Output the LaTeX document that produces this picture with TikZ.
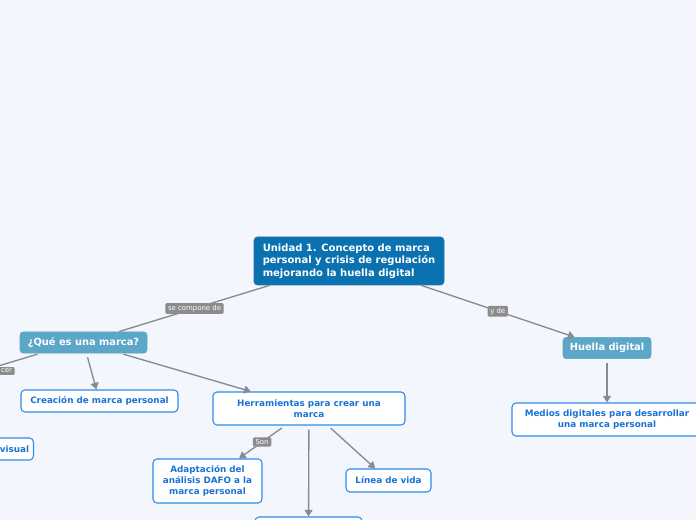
\documentclass[tikz,border=0pt]{standalone}
\usepackage{fontspec}
\setmainfont{DejaVu Sans}
\usetikzlibrary{arrows.meta}

\definecolor{bgcol}{RGB}{243,246,253}
\definecolor{rootcol}{RGB}{10,114,176}
\definecolor{topiccol}{RGB}{92,166,200}
\definecolor{subline}{RGB}{45,140,235}
\definecolor{subtext}{RGB}{25,115,215}
\definecolor{linkcol}{RGB}{135,138,145}
\definecolor{lblcol}{RGB}{140,140,140}

\tikzset{
  root/.style={rectangle, rounded corners=2.5pt, fill=rootcol, draw=rootcol!70!gray,
    text=white, font=\bfseries\fontsize{7.5}{9.4}\selectfont, align=left,
    minimum width=142.5pt, minimum height=36pt, inner xsep=5pt},
  topic/.style={rectangle, rounded corners=2.5pt, fill=topiccol, draw=topiccol,
    text=white, font=\bfseries\fontsize{7.4}{9}\selectfont, minimum height=16pt},
  sub/.style={rectangle, rounded corners=3pt, fill=white, draw=subline, line width=0.8pt,
    text=subtext, font=\bfseries\fontsize{6.6}{8.25}\selectfont, align=center},
  lbl/.style={rectangle, rounded corners=1pt, fill=lblcol, text=white,
    font=\fontsize{5.2}{6}\selectfont, inner xsep=2pt, inner ysep=1.5pt},
  link/.style={draw=linkcol, line width=1pt},
  arr/.style={link, -{Triangle[length=5pt,width=6pt]}}
}

\begin{document}
\begin{tikzpicture}[x=0.75pt,y=-0.75pt]

      % Canvas
	  \fill[bgcol] (0,0) rectangle (696,520);
	  \useasboundingbox (0,0) rectangle (696,520);

      % Define nodes
	  \node[root]                                        (unidad) at (349,261)
	       {Unidad 1. Concepto de marca\\personal y crisis de regulación\\mejorando la huella digital};
	  \node[topic, minimum width=95.25pt]                (que) at (83.5,342.5) {¿Qué es una marca?};
	  \node[topic, minimum width=66pt]                   (huella) at (607,348) {Huella digital};
	  \node[sub, minimum width=117.75pt, minimum height=16.5pt]  (creacion) at (99.5,401) {Creación de marca personal};
	  \node[sub, minimum width=144pt, minimum height=24.75pt]    (herram) at (309,408.5) {Herramientas para crear una\\marca};
	  \node[sub, minimum width=81.75pt, minimum height=33pt]     (dafo) at (207.5,481) {Adaptación del\\análisis DAFO a la\\marca personal};
	  \node[sub, minimum width=63.75pt, minimum height=17.25pt]  (linea) at (388.5,480.5) {Línea de vida};
	  \node[sub, minimum width=80.25pt, minimum height=19.5pt]   (abajo) at (308.5,530) {};
	  \node[sub, minimum width=142.5pt, minimum height=24.75pt]  (medios) at (607,419.5) {Medios digitales para desarrollar\\una marca personal};
	  \node[sub, text width=50pt, align=right, minimum height=16.5pt, anchor=east] (visual) at (34,449) {visual};
	  \coordinate                                        (fuera) at (-40,377.5);

	  % Connect the nodes
	  \draw[link] (unidad) -- node[lbl, pos=0.5] {se compone de} (que);
	  \draw[arr]  (unidad) -- node[lbl, pos=0.5] {y de} (huella);
	  \draw[link, shorten <=2pt] ([xshift=-32.6pt]que.south) -- (fuera);
	  \node[lbl, anchor=east] (cerlbl) at (15,371) {cer};
	  \draw[arr, shorten <=3pt] (que) -- (creacion);
	  \draw[arr, shorten <=2pt] (que) -- (herram);
	  \draw[arr, shorten <=3pt] (herram) -- node[lbl, pos=0.5] {Son} (dafo);
	  \draw[arr, shorten <=3pt] (herram) -- (abajo);
	  \draw[arr, shorten <=3pt] (herram) -- (linea);
	  \draw[arr, shorten <=3pt] (huella) -- (medios);

	\end{tikzpicture}
\end{document}
